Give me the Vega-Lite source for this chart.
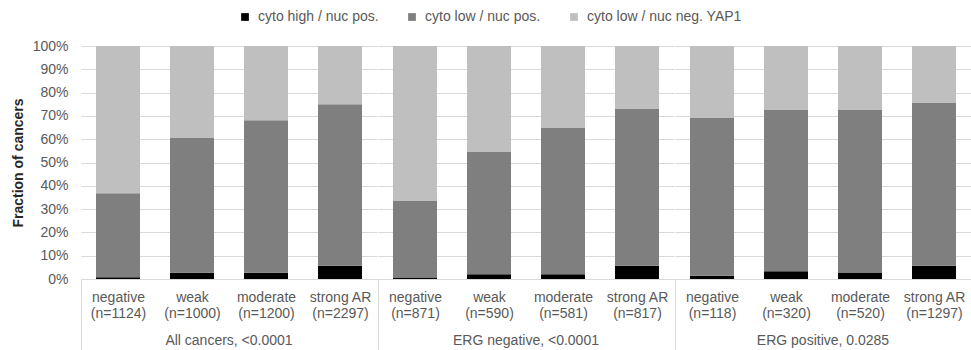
{
  "$schema": "https://vega.github.io/schema/vega-lite/v6.json",
  "padding": {"left": 11, "top": 10, "right": 0, "bottom": 0},
  "background": "white",
  "data": {
    "values": [
      {"group": "All cancers, <0.0001", "label": "negative (n=1124)", "status": "cyto high / nuc pos.", "k": 0, "pct": 0.8},
      {"group": "All cancers, <0.0001", "label": "negative (n=1124)", "status": "cyto low / nuc pos.", "k": 1, "pct": 36.0},
      {"group": "All cancers, <0.0001", "label": "negative (n=1124)", "status": "cyto low / nuc neg. YAP1", "k": 2, "pct": 63.2},
      {"group": "All cancers, <0.0001", "label": "weak (n=1000)", "status": "cyto high / nuc pos.", "k": 0, "pct": 2.7},
      {"group": "All cancers, <0.0001", "label": "weak (n=1000)", "status": "cyto low / nuc pos.", "k": 1, "pct": 57.8},
      {"group": "All cancers, <0.0001", "label": "weak (n=1000)", "status": "cyto low / nuc neg. YAP1", "k": 2, "pct": 39.5},
      {"group": "All cancers, <0.0001", "label": "moderate (n=1200)", "status": "cyto high / nuc pos.", "k": 0, "pct": 2.7},
      {"group": "All cancers, <0.0001", "label": "moderate (n=1200)", "status": "cyto low / nuc pos.", "k": 1, "pct": 65.4},
      {"group": "All cancers, <0.0001", "label": "moderate (n=1200)", "status": "cyto low / nuc neg. YAP1", "k": 2, "pct": 31.9},
      {"group": "All cancers, <0.0001", "label": "strong AR (n=2297)", "status": "cyto high / nuc pos.", "k": 0, "pct": 5.7},
      {"group": "All cancers, <0.0001", "label": "strong AR (n=2297)", "status": "cyto low / nuc pos.", "k": 1, "pct": 69.3},
      {"group": "All cancers, <0.0001", "label": "strong AR (n=2297)", "status": "cyto low / nuc neg. YAP1", "k": 2, "pct": 25.0},
      {"group": "ERG negative, <0.0001", "label": "negative (n=871)", "status": "cyto high / nuc pos.", "k": 0, "pct": 0.6},
      {"group": "ERG negative, <0.0001", "label": "negative (n=871)", "status": "cyto low / nuc pos.", "k": 1, "pct": 33.1},
      {"group": "ERG negative, <0.0001", "label": "negative (n=871)", "status": "cyto low / nuc neg. YAP1", "k": 2, "pct": 66.3},
      {"group": "ERG negative, <0.0001", "label": "weak (n=590)", "status": "cyto high / nuc pos.", "k": 0, "pct": 2.0},
      {"group": "ERG negative, <0.0001", "label": "weak (n=590)", "status": "cyto low / nuc pos.", "k": 1, "pct": 52.7},
      {"group": "ERG negative, <0.0001", "label": "weak (n=590)", "status": "cyto low / nuc neg. YAP1", "k": 2, "pct": 45.3},
      {"group": "ERG negative, <0.0001", "label": "moderate (n=581)", "status": "cyto high / nuc pos.", "k": 0, "pct": 2.0},
      {"group": "ERG negative, <0.0001", "label": "moderate (n=581)", "status": "cyto low / nuc pos.", "k": 1, "pct": 63.0},
      {"group": "ERG negative, <0.0001", "label": "moderate (n=581)", "status": "cyto low / nuc neg. YAP1", "k": 2, "pct": 35.0},
      {"group": "ERG negative, <0.0001", "label": "strong AR (n=817)", "status": "cyto high / nuc pos.", "k": 0, "pct": 5.7},
      {"group": "ERG negative, <0.0001", "label": "strong AR (n=817)", "status": "cyto low / nuc pos.", "k": 1, "pct": 67.5},
      {"group": "ERG negative, <0.0001", "label": "strong AR (n=817)", "status": "cyto low / nuc neg. YAP1", "k": 2, "pct": 26.8},
      {"group": "ERG positive, 0.0285", "label": "negative (n=118)", "status": "cyto high / nuc pos.", "k": 0, "pct": 1.4},
      {"group": "ERG positive, 0.0285", "label": "negative (n=118)", "status": "cyto low / nuc pos.", "k": 1, "pct": 67.9},
      {"group": "ERG positive, 0.0285", "label": "negative (n=118)", "status": "cyto low / nuc neg. YAP1", "k": 2, "pct": 30.7},
      {"group": "ERG positive, 0.0285", "label": "weak (n=320)", "status": "cyto high / nuc pos.", "k": 0, "pct": 3.3},
      {"group": "ERG positive, 0.0285", "label": "weak (n=320)", "status": "cyto low / nuc pos.", "k": 1, "pct": 69.2},
      {"group": "ERG positive, 0.0285", "label": "weak (n=320)", "status": "cyto low / nuc neg. YAP1", "k": 2, "pct": 27.5},
      {"group": "ERG positive, 0.0285", "label": "moderate (n=520)", "status": "cyto high / nuc pos.", "k": 0, "pct": 2.6},
      {"group": "ERG positive, 0.0285", "label": "moderate (n=520)", "status": "cyto low / nuc pos.", "k": 1, "pct": 69.9},
      {"group": "ERG positive, 0.0285", "label": "moderate (n=520)", "status": "cyto low / nuc neg. YAP1", "k": 2, "pct": 27.5},
      {"group": "ERG positive, 0.0285", "label": "strong AR (n=1297)", "status": "cyto high / nuc pos.", "k": 0, "pct": 5.7},
      {"group": "ERG positive, 0.0285", "label": "strong AR (n=1297)", "status": "cyto low / nuc pos.", "k": 1, "pct": 70.1},
      {"group": "ERG positive, 0.0285", "label": "strong AR (n=1297)", "status": "cyto low / nuc neg. YAP1", "k": 2, "pct": 24.2}
    ]
  },
  "facet": {
    "column": {
      "field": "group",
      "type": "nominal",
      "sort": ["All cancers, <0.0001", "ERG negative, <0.0001", "ERG positive, 0.0285"],
      "header": {
        "title": null,
        "labelOrient": "bottom",
        "labelFont": "Liberation Sans",
        "labelFontSize": 14,
        "labelColor": "#595959",
        "labelPadding": -18
      }
    }
  },
  "spacing": 0,
  "resolve": {"scale": {"x": "independent"}},
  "spec": {
    "width": 296,
    "height": 233,
    "mark": {"type": "bar"},
    "encoding": {
      "x": {
        "field": "label",
        "type": "nominal",
        "sort": null,
        "scale": {"paddingInner": 0.4054, "paddingOuter": 0.2027},
        "axis": {
          "title": null,
          "labelAngle": 0,
          "labelExpr": "[slice(datum.label, 0, indexof(datum.label, ' (')), slice(datum.label, indexof(datum.label, ' (') + 1)]",
          "labelFont": "Liberation Sans",
          "labelFontSize": 14,
          "labelColor": "#595959",
          "labelLineHeight": 16,
          "labelPadding": -61,
          "bandPosition": 0,
          "tickOffset": -15,
          "labelOffset": 15,
          "tickSize": 72,
          "tickColor": "#d9d9d9",
          "tickOpacity": {"condition": {"test": "indexof(datum.value, 'negative') === 0", "value": 1}, "value": 0},
          "domainColor": "#d9d9d9",
          "grid": false
        }
      },
      "y": {
        "field": "pct",
        "type": "quantitative",
        "stack": "zero",
        "scale": {"domain": [0, 100], "nice": false},
        "axis": {
          "title": "Fraction of cancers",
          "titleFont": "Liberation Sans",
          "titleFontSize": 14,
          "titleFontWeight": "bold",
          "titleColor": "#262626",
          "titlePadding": 7,
          "values": [0, 10, 20, 30, 40, 50, 60, 70, 80, 90, 100],
          "labelExpr": "datum.value + '%'",
          "labelFont": "Liberation Sans",
          "labelFontSize": 14,
          "labelColor": "#595959",
          "labelPadding": 12,
          "ticks": false,
          "domain": false,
          "gridColor": "#d9d9d9"
        }
      },
      "color": {
        "field": "status",
        "type": "nominal",
        "sort": ["cyto high / nuc pos.", "cyto low / nuc pos.", "cyto low / nuc neg. YAP1"],
        "scale": {
          "domain": ["cyto high / nuc pos.", "cyto low / nuc pos.", "cyto low / nuc neg. YAP1"],
          "range": ["#000000", "#7f7f7f", "#bfbfbf"]
        },
        "legend": {
          "title": null,
          "orient": "none",
          "direction": "horizontal",
          "legendX": 157,
          "legendY": -36,
          "symbolType": "square",
          "symbolSize": 60,
          "symbolStrokeWidth": 0,
          "labelFont": "Liberation Sans",
          "labelFontSize": 14,
          "labelColor": "#595959",
          "labelOffset": 6,
          "columnPadding": 26
        }
      },
      "order": {"field": "k", "type": "quantitative"}
    }
  },
  "config": {
    "view": {"stroke": null},
    "axis": {"labelFont": "Liberation Sans"}
  }
}
